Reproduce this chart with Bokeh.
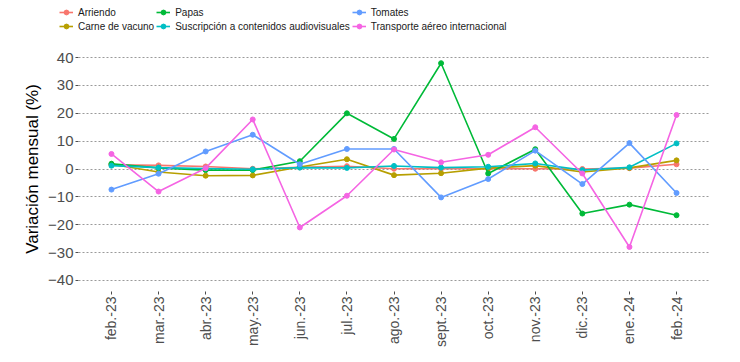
import math
from bokeh.plotting import figure
from bokeh.layouts import column
from bokeh.models import FactorRange, Range1d, FixedTicker, Legend, LegendItem
from bokeh.embed import file_html
from bokeh.resources import INLINE

months = ["feb.-23", "mar.-23", "abr.-23", "may.-23", "jun.-23", "jul.-23", "ago.-23",
          "sept.-23", "oct.-23", "nov.-23", "dic.-23", "ene.-24", "feb.-24"]

arriendo = [1.5, 1.3, 0.9, 0.1, 0.6, 1.0, 0.1, 0.1, 0.1, 0.1, 0.0, 0.3, 1.7]
carne = [1.7, -1.1, -2.4, -2.3, 0.7, 3.5, -2.2, -1.5, 0.3, 1.2, -1.1, 0.4, 3.1]
papas = [1.9, 0.4, -0.4, -0.4, 2.8, 20.0, 10.8, 38.0, -1.6, 7.1, -16.0, -12.8, -16.6]
suscripcion = [1.2, 0.5, 0.2, -0.1, 0.5, 0.4, 1.1, 0.5, 0.8, 2.0, -0.4, 0.6, 9.2]
tomates = [-7.4, -1.7, 6.3, 12.3, 1.7, 7.2, 7.2, -10.2, -3.6, 6.6, -5.4, 9.3, -8.6]
transporte = [5.4, -8.1, 0.3, 17.8, -21.0, -9.6, 7.0, 2.4, 5.1, 15.0, -1.6, -28.0, 19.4]

series_names = ["Arriendo", "Carne de vacuno", "Papas",
                "Suscripción a contenidos audiovisuales", "Tomates",
                "Transporte aéreo internacional"]
series_values = [arriendo, carne, papas, suscripcion, tomates, transporte]
series_colors = ["#F8766D", "#B79F00", "#00BA38", "#00BFC4", "#619CFF", "#F564E3"]

y_ticks = [-40, -30, -20, -10, 0, 10, 20, 30, 40]

FONT = "Liberation Sans"
LINE_W = 1.6
PT_SIZE = 5

# ---------------- main chart ----------------
p = figure(
    x_range=FactorRange(*months, range_padding=0.2, range_padding_units="absolute"),
    y_range=Range1d(-44, 44),
    width=732, height=314,
    min_border_left=78, min_border_right=23, min_border_top=6, min_border_bottom=63,
    output_backend="svg", toolbar_location=None,
)
p.frame_align = False
p.outline_line_color = None
p.background_fill_color = "white"

p.xgrid.grid_line_color = None
p.ygrid.grid_line_color = "#9a9a9a"
p.ygrid.grid_line_dash = "2 2"
p.ygrid.grid_line_width = 1.2
p.yaxis.ticker = FixedTicker(ticks=y_ticks)

for ax in (p.xaxis[0], p.yaxis[0]):
    ax.axis_line_color = None
    ax.major_tick_line_color = "#4d4d4d"
    ax.major_tick_out = 3
    ax.major_tick_in = 0
    ax.minor_tick_line_color = None
    ax.major_label_text_color = "#4d4d4d"
    ax.major_label_text_font = FONT
    ax.major_label_standoff = 2

p.yaxis.major_label_text_font_size = "15px"
p.xaxis.major_label_text_font_size = "14px"
p.xaxis.major_label_orientation = math.pi / 2

p.yaxis.axis_label = "Variación mensual (%)"
p.yaxis.axis_label_text_font = FONT
p.yaxis.axis_label_text_font_size = "17px"
p.yaxis.axis_label_text_font_style = "normal"
p.yaxis.axis_label_text_color = "black"
p.yaxis.axis_label_standoff = 3

for vals, col in zip(series_values, series_colors):
    p.line(months, vals, line_color=col, line_width=LINE_W)
    p.scatter(months, vals, marker="circle", size=PT_SIZE, fill_color=col, line_color=col)

# ---------------- legend strip above ----------------
# The same series are drawn here with a y range far outside the data, so only
# the legend (which needs real renderers for its glyphs) is visible.
lg = figure(
    width=732, height=40,
    x_range=FactorRange(*months), y_range=Range1d(1000, 1001),
    x_axis_type=None, y_axis_type=None,
    min_border=0, min_border_left=0, min_border_right=0, min_border_top=0, min_border_bottom=0,
    output_backend="svg", toolbar_location=None,
)
lg.frame_align = False
lg.outline_line_color = None
lg.xgrid.grid_line_color = None
lg.ygrid.grid_line_color = None

items = []
for name, vals, col in zip(series_names, series_values, series_colors):
    r1 = lg.line(months, vals, line_color=col, line_width=LINE_W)
    r2 = lg.scatter(months, vals, marker="circle", size=PT_SIZE, fill_color=col, line_color=col)
    items.append(LegendItem(label=name, renderers=[r1, r2]))

legend = Legend(
    items=items,
    location=(59, 8),
    orientation="vertical",
    nrows=2,
    label_text_font=FONT,
    label_text_font_size="10px",
    label_text_color="#1a1a1a",
    glyph_width=14,
    glyph_height=12,
    label_height=12,
    label_standoff=5,
    spacing=2,
    padding=0,
    margin=0,
    border_line_color=None,
    background_fill_alpha=0,
)
lg.add_layout(legend, "center")

layout = column(lg, p, spacing=0)
open("out.html", "w").write(file_html(layout, INLINE))
